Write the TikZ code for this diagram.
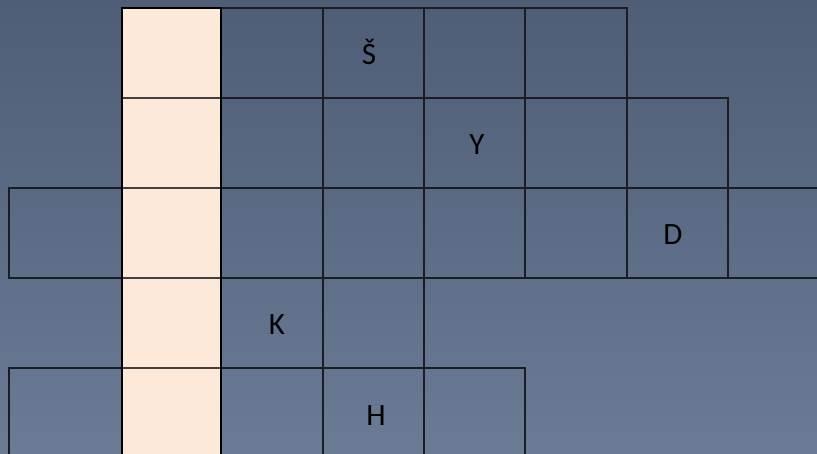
\documentclass[tikz,border=0pt]{standalone}
\usepackage{fontspec}
\setmainfont{Carlito}
\definecolor{bgtop}{HTML}{4F5D76}
\definecolor{bgbot}{HTML}{6B7B96}
\definecolor{peach}{HTML}{FDE9D9}
\definecolor{gridline}{HTML}{1A1D22}
\tikzset{
  cell/.style={draw=gridline, line width=1.4pt},
  letter/.style={anchor=base, text=black, font=\fontsize{31}{31}\selectfont, inner sep=0pt},
}
\begin{document}
\begin{tikzpicture}[x=1pt,y=-1pt]
  \shade[top color=bgtop, bottom color=bgbot] (0,0) rectangle (817,454);
  \useasboundingbox (0,0) rectangle (817,454);
  % cells: left/right/top
  \foreach \a/\b/\t in {221/323/8, 323/424/8, 424/525/8, 525/627/8,
                        221/323/98, 323/424/98, 424/525/98, 525/627/98, 627/728/98,
                        9/122/188, 221/323/188, 323/424/188, 424/525/188, 525/627/188, 627/728/188, 728/830/188,
                        221/323/278, 323/424/278,
                        9/122/368, 221/323/368, 323/424/368, 424/525/368}
    \draw[cell] (\a,\t) rectangle (\b,\t+90);
  % solution column
  \fill[peach] (122,8) rectangle (221,462);
  \foreach \t in {98,188,278,368}
    \draw[draw=black!75, line width=1.4pt] (122,\t) -- (221,\t);
  \draw[line width=2.6pt] (122,462) -- (122,8) -- (221,8) -- (221,462);
  % letters
  \node[letter] (s) at (369,65) {Š};
  \node[letter] (y) at (477,155) {Y};
  \node[letter] (d) at (673,245) {D};
  \node[letter] (k) at (277,335) {K};
  \node[letter] (h) at (376,425) {H};
\end{tikzpicture}
\end{document}
